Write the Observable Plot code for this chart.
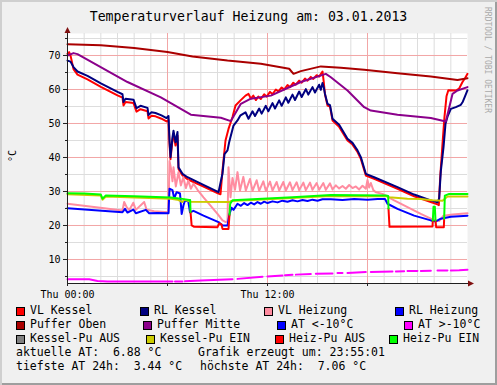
<!DOCTYPE html>
<html><head><meta charset="utf-8">
<script src="https://cdn.jsdelivr.net/npm/d3@7"></script>
<script src="https://cdn.jsdelivr.net/npm/@observablehq/plot@0.6"></script>
<style>
html,body{margin:0;padding:0;background:#f0f0f0;}
#wrap{position:relative;width:497px;height:385px;background:#f0f0f0;overflow:hidden;
 box-shadow: inset 2px 2px 0 #cfcfcf, inset -2px -2px 0 #9e9e9e;
 font-family:"DejaVu Sans Mono",monospace;color:#000;}
.t{position:absolute;white-space:pre;line-height:1;}
.box{position:absolute;width:9px;height:9px;box-sizing:border-box;border:1px solid #000;}
#wrap svg{position:absolute;left:0;top:0;}
</style></head><body><div id="wrap"></div>
<script>
// ---------- data (hours since 00:00, °C) ----------
const vlKessel = [[0,70.5],[0.1,71.0],[0.2,69.6],[0.36,66.0],[0.6,64.4],[1.2,63.0],[2.0,60.8],[3.0,58.3],[3.3,57.6],[3.36,55.3],[3.48,56.3],[3.96,56.0],[4.14,53.5],[4.38,54.2],[4.8,53.6],[4.86,51.5],[5.04,52.3],[5.28,52.1],[5.64,51.4],[5.94,50.6],[6.06,51.0],[6.12,44],[6.18,39.5],[6.3,45.2],[6.36,46.8],[6.48,43.5],[6.6,46.4],[6.66,36.6],[6.9,34.7],[7.2,33.6],[8.0,31.8],[9.06,29.4],[9.18,29.2],[9.3,36.2],[9.48,45],[9.66,48.4],[9.9,51.9],[10.08,55.3],[10.38,56.8],[10.68,58.2],[10.86,58.7],[11.0,57.3],[11.15,58.2],[11.3,56.9],[11.45,57.9],[11.6,57.2],[11.8,58.6],[11.95,57.9],[12.15,59.3],[12.3,58.6],[12.5,60.0],[12.65,59.4],[12.85,60.6],[13.0,60.0],[13.2,61.3],[13.35,60.7],[13.55,62.0],[13.7,61.4],[13.9,62.6],[14.05,62.0],[14.25,63.2],[14.4,62.6],[14.6,63.7],[14.75,63.1],[14.95,64.2],[15.1,63.8],[15.3,65.3],[15.38,62],[15.45,58.5],[15.6,55.3],[15.75,55.0],[15.9,50.9],[16.3,49.0],[16.8,45.0],[17.1,43.8],[17.4,41.6],[17.6,39.6],[17.9,34.7],[18.4,33.7],[19.8,30.8],[20.8,28.6],[21.8,26.9],[22.2,26.2],[22.28,26.0],[22.36,34],[22.5,44],[22.62,52],[22.74,58],[22.85,59.8],[23.3,59.7],[23.5,60.3],[23.7,62.2],[23.85,63.3],[24,64.6]];
const rlKessel = [[0,68.5],[0.18,68.2],[0.36,66.6],[0.6,65.3],[1.2,64.0],[2.0,61.8],[3.0,59.3],[3.3,58.6],[3.36,56.3],[3.48,57.3],[3.96,57.0],[4.14,54.5],[4.38,55.2],[4.8,54.6],[4.86,52.5],[5.04,53.3],[5.28,53.1],[5.64,52.4],[5.94,51.6],[6.06,52.2],[6.12,45],[6.18,40.1],[6.3,46],[6.36,47.9],[6.48,44.5],[6.6,47.5],[6.66,37.1],[6.9,35.2],[7.2,34.2],[8.0,32.3],[9.06,29.8],[9.3,35.3],[9.42,41],[9.6,42.1],[9.7,44.5],[9.78,46],[9.96,49.4],[10.2,50.9],[10.38,52.4],[10.68,53.3],[10.86,51.4],[11.1,53.6],[11.25,52.2],[11.5,54.4],[11.65,52.9],[11.9,55.2],[12.05,53.6],[12.3,56.0],[12.45,54.4],[12.7,56.8],[12.85,55.2],[13.1,57.7],[13.25,56.1],[13.5,58.5],[13.65,56.9],[13.9,59.4],[14.05,57.8],[14.3,60.1],[14.45,58.5],[14.7,60.7],[14.85,59.1],[15.1,61.4],[15.2,59.9],[15.3,61.9],[15.38,60.5],[15.45,58.7],[15.6,55.8],[15.75,55.4],[15.9,51.4],[16.3,49.6],[16.8,45.5],[17.1,44.3],[17.4,42.1],[17.6,40.1],[17.9,35.2],[18.4,34.2],[19.8,31.3],[20.8,29.1],[21.8,27.4],[22.2,26.8],[22.3,28],[22.4,36],[22.56,43],[22.68,49.9],[22.8,52],[23.0,54.3],[23.3,54.8],[23.6,55.5],[23.72,56.4],[23.85,58],[24,59.8]];
const vlHeizung = [[0,26.4],[3.3,24.4],[3.4,26.9],[3.55,25.4],[3.7,24.5],[3.95,26.7],[4.1,24.6],[4.6,26.9],[4.75,24.6],[5.2,24.2],[6.06,23.9],[6.12,39],[6.2,37],[6.3,33],[6.36,37.1],[6.5,31.5],[6.66,35.7],[6.8,31.8],[6.95,34.2],[7.1,31.0],[7.25,33.2],[7.4,30.8],[7.56,32.3],[7.8,30.5],[8.16,28.3],[9.0,23.4],[9.3,21.5],[9.5,21.0],[9.6,21.3],[9.66,37.1],[9.78,28.3],[9.9,34.0],[10.05,30.5],[10.2,35.7],[10.35,30.3],[10.55,34.3],[10.7,30.3],[10.95,33.7],[11.1,30.2],[11.35,33.3],[11.5,30.2],[11.75,33.0],[11.9,30.2],[12.15,32.9],[12.3,30.3],[12.55,32.8],[12.7,30.3],[12.95,32.8],[13.1,30.3],[13.35,32.7],[13.5,30.4],[13.75,32.7],[13.9,30.4],[14.15,32.6],[14.3,30.4],[14.55,32.6],[14.7,30.5],[14.95,32.5],[15.1,30.5],[15.35,32.5],[15.5,30.5],[15.75,32.4],[15.9,30.6],[16.1,31.8],[16.3,30.9],[16.5,31.6],[16.7,30.8],[16.9,31.9],[17.1,31.0],[17.3,31.5],[17.5,30.6],[17.7,31.7],[17.9,30.8],[18.0,33.4],[18.1,31.2],[18.2,32.5],[18.35,30.4],[18.5,29.8],[18.9,29.3],[19.6,27.4],[20.4,25.4],[21.2,23.4],[21.8,22.0],[22.1,21.5],[22.3,21.3],[22.56,22.9],[23.1,23.2],[24,23.6]];
const rlHeizung = [[0,25.1],[3.3,23.9],[3.45,24.9],[3.6,23.8],[3.95,24.7],[4.1,23.6],[4.7,24.6],[4.9,23.6],[5.4,23.7],[6.06,23.6],[6.12,30.8],[6.3,30.4],[6.4,28.0],[6.55,29.8],[6.75,29.4],[6.85,23.4],[6.95,25.8],[7.05,27.4],[7.25,27.0],[7.35,23.9],[7.56,24.3],[8.16,22.9],[9.06,21.0],[9.3,20.0],[9.6,20.0],[9.72,23.4],[9.84,25.2],[9.96,24.6],[10.2,26.4],[10.4,25.8],[10.6,26.6],[10.8,26.0],[11.0,26.7],[11.2,26.2],[11.4,26.9],[11.6,26.4],[11.8,27.0],[12.0,26.6],[12.3,27.1],[12.6,26.8],[12.9,27.3],[13.2,27.0],[13.5,27.4],[13.8,27.1],[14.1,27.5],[14.4,27.2],[14.7,27.6],[15.0,27.3],[15.3,27.7],[15.8,27.7],[16.5,27.5],[17.2,27.8],[18,27.6],[18.6,27.8],[19.05,27.8],[19.2,26.4],[19.8,24.9],[20.8,22.9],[21.8,21.5],[22.1,21.2],[22.4,22.0],[23.0,22.6],[24,22.9]];
const pufferOben = [[0,73.3],[2,73.0],[4,72.2],[6,71.0],[7.5,69.7],[9.6,68.5],[11.6,67.6],[13.3,66.1],[13.56,64.6],[14,65.4],[15.2,66.8],[16.4,66.4],[17.8,65.8],[19.8,64.8],[21.8,63.8],[23.4,62.8],[24,63.3]];
const pufferMitte = [[0,70.0],[0.36,70.7],[0.6,70.4],[3.6,62.2],[5.6,57.7],[6.8,54.3],[7.4,52.6],[9.2,51.7],[9.8,50.7],[10.4,55.8],[11,57.3],[12.2,58.2],[14,62.2],[15.5,64.6],[15.8,63.6],[16.8,59.7],[17.8,54.8],[18.2,53.8],[19.8,52.6],[21.8,51.6],[22.7,50.6],[23.1,58.7],[23.4,59.7],[24,60.7]];
const atUnter10 = [];
const atUeber10 = [[0,4.2],[1.3,4.2],[1.8,3.7],[2.4,3.5],[4,3.5],[6,3.5],[6.3,3.5],[6.35,null],[6.45,3.5],[6.9,3.55],[6.95,null],[7.05,3.6],[8,3.8],[9.9,4.2],[10,null],[10.2,4.3],[11.7,4.9],[11.8,null],[12,5.0],[12.9,5.3],[12.95,null],[13.05,5.35],[13.5,5.5],[13.6,null],[13.7,5.55],[14.6,5.75],[14.7,null],[14.9,5.8],[15.9,5.9],[16.0,null],[16.2,6.0],[16.5,6.0],[16.6,null],[16.8,6.05],[17.9,6.3],[18.0,null],[18.2,6.3],[19.5,6.45],[19.6,null],[19.7,6.5],[20.2,6.55],[20.3,null],[20.4,6.6],[21,6.65],[21.1,null],[21.2,6.65],[21.8,6.7],[22,null],[22.2,6.75],[22.8,6.8],[22.9,null],[23,6.8],[23.5,6.85],[24,7.0]];
const kesselPuAus = [];
const kesselPuEin = [[0,29.2],[2,28.8],[2.1,27.6],[2.3,28.5],[6.2,27.9],[6.6,27.6],[6.9,26.9],[7.0,27.6],[7.38,27.0],[9.7,26.9],[9.8,27.2],[11.4,27.6],[15.8,28.7],[19.2,28.6],[19.3,28.3],[20.4,27.9],[21.2,27.8],[21.9,27.4],[22.5,27.3],[22.8,28.5],[24,28.5]];
const heizPuAus = [[7.38,24.0],[7.45,20.0],[7.6,19.6],[9.0,19.5],[9.1,20.6],[9.24,20.3],[9.3,19.0],[9.66,19.0],[9.72,23.2],[9.74,null],[19.24,null],[19.26,25.0],[19.32,19.6],[21.9,19.7],[21.92,21.5],[21.94,null],[22.06,null],[22.08,21.5],[22.12,19.5],[22.58,19.5],[22.6,22.0]];
const heizPuEin = [[0,29.5],[1.0,29.4],[2.0,29.1],[2.1,27.9],[2.3,28.8],[4,28.6],[6.2,28.2],[6.8,27.9],[7.3,27.5],[7.36,27.5],[7.38,24.0],[7.4,null],[9.7,null],[9.72,23.2],[9.76,26.4],[9.9,27.4],[11.4,27.8],[13.5,28.3],[15.8,29.0],[19.1,28.8],[19.24,28.7],[19.26,25.0],[19.3,null],[21.9,null],[21.92,21.5],[21.96,25.5],[22.04,25.5],[22.08,21.5],[22.1,null],[22.58,null],[22.6,22.0],[22.64,28.8],[22.9,29.3],[24,29.3]];

const seriesNames = ["VL Kessel","RL Kessel","VL Heizung","RL Heizung","Puffer Oben","Puffer Mitte","AT <-10°C","AT >-10°C","Kessel-Pu AUS","Kessel-Pu EIN","Heiz-Pu AUS","Heiz-Pu EIN"];
const seriesColors = ["#FF0000","#000080","#FF8CA0","#0000FF","#AA0000","#8B008B","#0000FF","#FF00FF","#808080","#CCCC00","#FF0000","#00FF00"];
const seriesData = [vlKessel,rlKessel,vlHeizung,rlHeizung,pufferOben,pufferMitte,atUnter10,atUeber10,kesselPuAus,kesselPuEin,heizPuAus,heizPuEin];

const yMajorTicks = [10,20,30,40,50,60,70];
const yMinorTicks = [5,15,25,35,45,55,65,75];
const xMajorHours = [6,12,18];
const xMinorHours = [1,2,3,4,5,7,8,9,10,11,13,14,15,16,17,19,20,21,22,23];
const xLabelHours = [0,12];
const xTickLabels = ["Thu 00:00","Thu 12:00"];
const yDomain = [2.94, 76.47];

const titleText = "Temperaturverlauf Heizung am: 03.01.2013";
const unitText = "°C";
const watermarkText = "RRDTOOL / TOBI OETIKER";
const infoTexts = [["aktuelle AT:  6.88 °C","Grafik erzeugt um: 23:55:01"],["tiefste AT 24h:  3.44 °C","höchste AT 24h:  7.06 °C"]];

// ---------- layout ----------
const legendRowTop = [307,321,335];
const legendCols = [[16,140,264,395],[16,143,277,404],[16,146,275,389]];
const infoRowBaseline = [357,371];
const infoCols = [[16,198],[16,200]];

const wrap = document.getElementById("wrap");
const chart = Plot.plot({
  width: 497, height: 305,
  marginLeft: 67, marginRight: 30, marginTop: 33, marginBottom: 22,
  style: {background: "transparent", fontFamily: "DejaVu Sans Mono", fontSize: "10px", color: "#000", overflow: "visible"},
  x: {type: "linear", domain: [0, 24]},
  y: {domain: yDomain},
  marks: [
    Plot.frame({fill: "white", stroke: "none"}),
    Plot.ruleX(xMinorHours, {stroke: "#dddddd"}),
    Plot.ruleY(yMinorTicks, {stroke: "#dddddd"}),
    Plot.ruleX(xMajorHours, {stroke: "#f2a6a6"}),
    Plot.ruleY(yMajorTicks, {stroke: "#f2a6a6"}),
    ...seriesData.map((d, i) => Plot.line(d, {x: p => p[0], y: p => p[1], stroke: seriesColors[i], strokeWidth: 2, strokeLinejoin: "round"})),
    Plot.axisY(yMajorTicks, {tickSize: 4, tickPadding: 3, stroke: "#202020", label: null}),
    Plot.axisY(yMinorTicks, {tickSize: 2, tickFormat: () => "", stroke: "#202020", label: null}),
    Plot.axisX(xLabelHours, {tickSize: 3, tickPadding: 4, stroke: "#202020", label: null,
      tickFormat: h => xTickLabels[xLabelHours.indexOf(h)]}),
    Plot.axisX(xMajorHours.filter(h => !xLabelHours.includes(h)), {tickSize: 3, tickFormat: () => "", stroke: "#202020", label: null}),
    Plot.ruleX([0], {stroke: "#202020"}),
    Plot.ruleY([yDomain[0]], {stroke: "#202020"})
  ]
});
wrap.appendChild(chart);

// arrows at axis ends (positions from the scales)
const sx = chart.scale("x"), sy = chart.scale("y");
const ax = sx.apply(0) + 0.5, ay = sy.apply(yDomain[0]) + 0.5;
const axEnd = sx.apply(24), ayTop = sy.apply(yDomain[1]);
const svg = d3.select(chart);
svg.append("line").attr("x1", axEnd).attr("x2", axEnd + 2).attr("y1", ay).attr("y2", ay).attr("stroke", "#202020");
svg.append("path").attr("d", `M${axEnd+7},${ay} L${axEnd+1},${ay-3} L${axEnd+1},${ay+3} Z`).attr("fill", "#801010");
svg.append("path").attr("d", `M${ax},${ayTop-6} L${ax-3},${ayTop} L${ax+3},${ayTop} Z`).attr("fill", "#801010");

// ---------- texts ----------
function addText(str, left, baseline, size, extra) {
  const d = document.createElement("div");
  d.className = "t";
  d.textContent = str;
  d.style.left = left + "px";
  d.style.top = (baseline - 0.846 * size) + "px";
  d.style.fontSize = size + "px";
  if (extra) Object.assign(d.style, extra);
  wrap.appendChild(d);
  return d;
}
const title = addText(titleText, 0, 21, 13.2, {width: "497px", textAlign: "center"});

const unit = document.createElement("div");
unit.className = "t"; unit.textContent = unitText;
Object.assign(unit.style, {left: "7.7px", top: "162px", fontSize: "10px", transformOrigin: "0 0", transform: "rotate(-90deg)"});
wrap.appendChild(unit);

const wm = document.createElement("div");
wm.className = "t"; wm.textContent = watermarkText;
Object.assign(wm.style, {left: "491px", top: "7px", fontSize: "8px", color: "#aaaaaa", transformOrigin: "0 0", transform: "rotate(90deg)"});
wrap.appendChild(wm);

let k = 0;
legendRowTop.forEach((top, r) => {
  legendCols[r].forEach(left => {
    const b = document.createElement("div");
    b.className = "box";
    b.style.left = left + "px"; b.style.top = top + "px";
    b.style.background = seriesColors[k];
    wrap.appendChild(b);
    addText(seriesNames[k], left + 14, top + 8, 11.5);
    k++;
  });
});
infoTexts.forEach((row, r) => row.forEach((s, c) => addText(s, infoCols[r][c], infoRowBaseline[r], 11.5)));
</script></body></html>
